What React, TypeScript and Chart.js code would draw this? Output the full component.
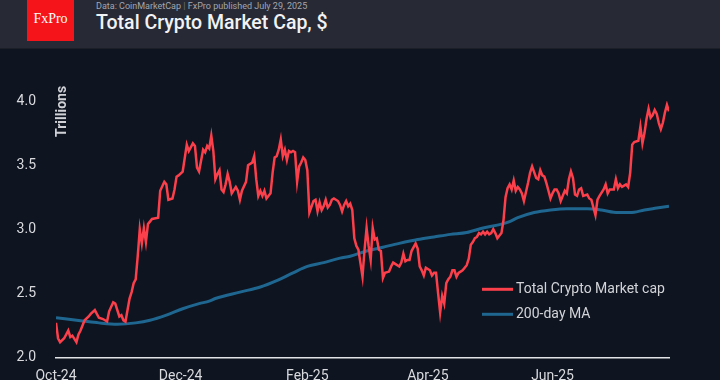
import React, { useEffect, useRef } from "react";
import { Chart, registerables } from "chart.js";

Chart.register(...registerables);

// Days since 1 Oct 2024
const capDays = [
  0, 1, 2, 4, 6, 7, 8, 10, 11, 12, 14, 16, 17, 19, 21, 23, 25, 26, 28, 29, 31, 32, 33, 34, 36, 37, 38, 39, 40, 41,
  42, 43, 44, 45, 47, 50, 51, 53, 54, 55, 57, 58, 59, 60, 62, 64, 65, 67, 68, 69, 70, 72, 73, 74, 75, 76, 77, 78, 79, 80,
  81, 82, 83, 84, 85, 86, 88, 89, 90, 91, 93, 94, 96, 97, 98, 99, 100, 101, 102, 103, 105, 106, 107, 108, 109, 110, 111, 112, 113, 114,
  115, 116, 117, 118, 119, 120, 121, 122, 123, 124, 126, 127, 128, 129, 130, 131, 132, 133, 134, 135, 136, 138, 139, 140, 141, 142, 143, 144, 145, 146,
  147, 148, 150, 151, 152, 153, 154, 155, 156, 157, 158, 159, 160, 161, 163, 164, 165, 166, 168, 169, 170, 171, 172, 173, 174, 176, 177, 178, 179, 180,
  181, 183, 184, 185, 186, 187, 188, 189, 190, 191, 192, 193, 194, 195, 196, 197, 198, 199, 201, 202, 203, 204, 205, 206, 207, 208, 209, 210, 211, 212,
  213, 214, 215, 216, 218, 219, 220, 221, 222, 223, 224, 225, 226, 227, 228, 229, 231, 232, 233, 235, 236, 237, 238, 239, 240, 241, 242, 243, 244, 245,
  246, 247, 249, 250, 251, 252, 253, 254, 255, 256, 257, 258, 260, 261, 262, 263, 264, 265, 266, 268, 269, 270, 271, 272, 273, 274, 275, 276, 277, 279,
  280, 281, 282, 283, 285, 286, 287, 288, 289, 290, 291, 292, 293, 294, 295, 296, 297, 298, 299, 300,
];

// Total crypto market cap, trillions $
const capValues = [
  2.27, 2.15, 2.12, 2.15, 2.21, 2.16, 2.17, 2.12, 2.18, 2.21, 2.29, 2.32, 2.34, 2.37, 2.31, 2.30, 2.28, 2.36, 2.43, 2.42, 2.32, 2.33, 2.29, 2.28, 2.46, 2.51, 2.58, 2.61, 2.79, 3.00,
  2.89, 3.01, 2.90, 3.04, 3.08, 3.09, 3.30, 3.37, 3.35, 3.23, 3.24, 3.31, 3.41, 3.42, 3.45, 3.66, 3.61, 3.67, 3.65, 3.48, 3.45, 3.62, 3.60, 3.65, 3.63, 3.73, 3.61, 3.39, 3.43, 3.46,
  3.31, 3.29, 3.35, 3.43, 3.37, 3.28, 3.33, 3.30, 3.23, 3.30, 3.37, 3.50, 3.52, 3.57, 3.39, 3.26, 3.30, 3.26, 3.30, 3.24, 3.28, 3.44, 3.56, 3.57, 3.62, 3.70, 3.57, 3.62, 3.54, 3.61,
  3.60, 3.61, 3.60, 3.37, 3.49, 3.52, 3.56, 3.54, 3.46, 3.13, 3.22, 3.23, 3.14, 3.21, 3.15, 3.18, 3.23, 3.17, 3.19, 3.23, 3.24, 3.22, 3.19, 3.14, 3.19, 3.22, 3.18, 3.20, 3.15, 2.93,
  2.87, 2.84, 2.63, 2.84, 3.01, 2.87, 2.76, 3.01, 2.92, 2.93, 2.84, 2.83, 2.62, 2.66, 2.67, 2.71, 2.74, 2.73, 2.71, 2.74, 2.81, 2.75, 2.76, 2.76, 2.83, 2.89, 2.85, 2.71, 2.68, 2.64,
  2.70, 2.68, 2.64, 2.66, 2.66, 2.50, 2.35, 2.48, 2.42, 2.58, 2.61, 2.63, 2.68, 2.68, 2.63, 2.66, 2.67, 2.68, 2.72, 2.77, 2.88, 2.90, 2.93, 2.94, 2.97, 2.96, 2.98, 2.96, 2.98, 2.96,
  2.97, 3.00, 2.97, 2.93, 2.97, 3.07, 3.25, 3.32, 3.35, 3.31, 3.38, 3.30, 3.33, 3.31, 3.28, 3.22, 3.36, 3.44, 3.49, 3.40, 3.39, 3.46, 3.42, 3.41, 3.36, 3.30, 3.24, 3.28, 3.31, 3.31,
  3.28, 3.22, 3.30, 3.28, 3.39, 3.45, 3.40, 3.27, 3.26, 3.31, 3.32, 3.26, 3.27, 3.24, 3.23, 3.17, 3.11, 3.23, 3.26, 3.31, 3.35, 3.28, 3.31, 3.31, 3.31, 3.39, 3.32, 3.35, 3.33, 3.35,
  3.33, 3.44, 3.66, 3.68, 3.69, 3.80, 3.67, 3.75, 3.86, 3.94, 3.87, 3.89, 3.93, 3.90, 3.83, 3.78, 3.83, 3.91, 3.97, 3.92,
];

const maDays = [
  0, 13, 21, 30, 39, 46, 54, 62, 70, 75, 78, 90, 100, 108, 116, 123, 131, 139, 144, 152, 160, 168, 177, 185, 193, 201, 209, 218, 222, 226,
  234, 242, 250, 260, 267, 275, 281, 288, 294, 300,
];
const maValues = [
  2.31, 2.285, 2.27, 2.26, 2.27, 2.29, 2.33, 2.38, 2.42, 2.44, 2.46, 2.51, 2.55, 2.6, 2.66, 2.71, 2.74, 2.775, 2.79, 2.83, 2.86, 2.89, 2.92, 2.94, 2.96, 2.975, 3.01, 3.04, 3.06, 3.09,
  3.13, 3.15, 3.16, 3.16, 3.15, 3.13, 3.13, 3.15, 3.165, 3.18,
];

const tickDays = [0, 61, 123, 182, 243];
const tickLabels = ["Oct-24", "Dec-24", "Feb-25", "Apr-25", "Jun-25"];
const yTicks = [2.0, 2.5, 3.0, 3.5, 4.0];

const seriesNames = ["Total Crypto Market cap", "200-day MA"];
const RED = "#fb3f4b";
const BLUE = "#1f6790";

const overlayPlugin = {
  id: "overlay",
  afterDraw(chart: any) {
    const { ctx, chartArea } = chart;
    ctx.save();
    // Axis title "Trillions"
    ctx.translate(chartArea.left + 6.5, chartArea.top + 36);
    ctx.rotate(-Math.PI / 2);
    ctx.font = "bold 14px Roboto";
    ctx.fillStyle = "#cfd1d6";
    ctx.textAlign = "left";
    ctx.textBaseline = "middle";
    ctx.fillText("Trillions", 0, 0);
    ctx.restore();

    // Legend
    ctx.save();
    const lx = chartArea.right - 187;
    const ys = [chartArea.top + 188.3, chartArea.top + 213.3];
    const colors = [RED, BLUE];
    ctx.font = "14px Roboto";
    ctx.textBaseline = "middle";
    ctx.textAlign = "left";
    seriesNames.forEach((name, i) => {
      ctx.strokeStyle = colors[i];
      ctx.lineWidth = 3;
      ctx.beginPath();
      ctx.moveTo(lx, ys[i]);
      ctx.lineTo(lx + 31, ys[i]);
      ctx.stroke();
      ctx.fillStyle = "#d2d4d8";
      ctx.fillText(name, lx + 34, ys[i] + 0.5);
    });
    ctx.restore();
  },
};

export default function App() {
  const canvasRef = useRef<HTMLCanvasElement | null>(null);

  useEffect(() => {
    document.body.style.margin = "0";
    const canvas = canvasRef.current;
    if (!canvas) return;
    Chart.defaults.font.family = "Roboto";
    const chart = new Chart(canvas, {
      type: "line",
      data: {
        datasets: [
          {
            label: seriesNames[0],
            data: capDays.map((d, i) => ({ x: d, y: capValues[i] })),
            borderColor: RED,
            borderWidth: 2.5,
            pointRadius: 0,
            tension: 0,
            order: 1,
          },
          {
            label: seriesNames[1],
            data: maDays.map((d, i) => ({ x: d, y: maValues[i] })),
            borderColor: BLUE,
            borderWidth: 3,
            pointRadius: 0,
            cubicInterpolationMode: "monotone",
            order: 2,
          },
        ],
      },
      options: {
        animation: false,
        responsive: false,
        layout: { padding: { top: 52, right: 51, left: 0, bottom: 0 } },
        plugins: {
          legend: { display: false },
          tooltip: { enabled: false },
        },
        scales: {
          x: {
            type: "linear",
            min: 0,
            max: 300,
            grid: { display: false },
            border: { display: true, color: "#e2e3e6", width: 1.5 },
            afterBuildTicks: (scale: any) => {
              scale.ticks = tickDays.map((v) => ({ value: v }));
            },
            afterFit: (scale: any) => {
              scale.height = 22.5;
            },
            ticks: {
              color: "#d9dade",
              font: { size: 14 },
              padding: 3,
              maxRotation: 0,
              autoSkip: false,
              callback: (_v: any, i: number) => tickLabels[i],
            },
          },
          y: {
            min: 2,
            max: 4,
            grid: { display: false },
            border: { display: false },
            afterBuildTicks: (scale: any) => {
              scale.ticks = yTicks.map((v) => ({ value: v }));
            },
            afterFit: (scale: any) => {
              scale.width = 56;
            },
            ticks: {
              color: "#d9dade",
              font: { size: 14 },
              padding: 12,
              callback: (v: any) => Number(v).toFixed(1),
            },
          },
        },
      },
      plugins: [overlayPlugin],
    });
    return () => chart.destroy();
  }, []);

  return (
    <div style={{ width: 720, height: 380, background: "#0e1420", fontFamily: "Roboto", overflow: "hidden" }}>
      <div
        style={{
          position: "relative",
          height: 48,
          background: "#272a35",
          borderBottom: "1px solid #1c1f28",
        }}
      >
        <div
          style={{
            position: "absolute",
            left: 27,
            top: 0,
            width: 47,
            height: 41,
            background: "#f5141a",
            color: "#ffffff",
            fontFamily: "'Liberation Serif', serif",
            fontSize: 14,
            lineHeight: "37px",
            textAlign: "center",
          }}
        >
          FxPro
        </div>
        <div
          style={{
            position: "absolute",
            left: 96,
            top: 1,
            fontSize: 9,
            lineHeight: "11px",
            color: "#a3a6ae",
            whiteSpace: "nowrap",
          }}
        >
          Data: CoinMarketCap <span style={{ color: "#6d7079" }}>|</span> FxPro published July 29, 2025
        </div>
        <div
          style={{
            position: "absolute",
            left: 96,
            top: 11,
            fontSize: 19.5,
            fontWeight: 500,
            lineHeight: "23px",
            color: "#f2f2f4",
            whiteSpace: "nowrap",
          }}
        >
          Total Crypto Market Cap, $
        </div>
      </div>
      <canvas ref={canvasRef} width={720} height={331} style={{ display: "block", width: 720, height: 331 }} />
    </div>
  );
}
